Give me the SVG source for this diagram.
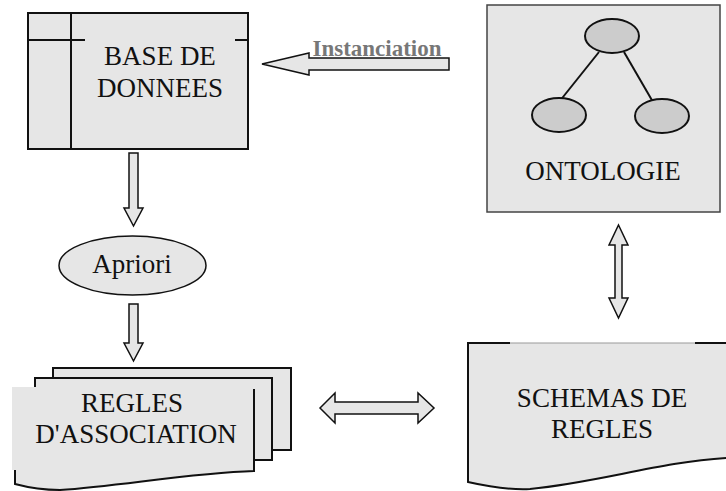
<svg xmlns="http://www.w3.org/2000/svg" width="726" height="491" viewBox="0 0 726 491">
<style>
.t{font-size:27px;fill:#111;text-anchor:middle}
.box{fill:#e6e6e6;stroke:#111;stroke-width:2}
.arr{fill:#e6e6e6;stroke:#111;stroke-width:1.5;stroke-linejoin:miter}
.ell{fill:#cccccc;stroke:#111;stroke-width:2}
</style>
<rect width="726" height="491" fill="#fff"/>
<g id="base-de-donnees">
<rect class="box" x="28" y="13" width="220" height="136"/>
<line x1="71" y1="13" x2="71" y2="149" stroke="#111" stroke-width="2"/>
<line x1="28" y1="40" x2="85" y2="40" stroke="#111" stroke-width="2"/>
<line x1="235" y1="40" x2="248" y2="40" stroke="#111" stroke-width="2"/>
<text class="t" font-family="Liberation Serif, Times New Roman, serif" x="160" y="65">BASE DE</text>
<text class="t" font-family="Liberation Serif, Times New Roman, serif" x="160" y="97">DONNEES</text>
</g>
<g id="ontologie">
<rect x="487" y="5" width="233" height="207" fill="#e6e6e6" stroke="#444" stroke-width="1.5"/>
<line x1="599" y1="52" x2="559" y2="102" stroke="#111" stroke-width="2"/>
<line x1="624" y1="52" x2="653" y2="102" stroke="#111" stroke-width="2"/>
<ellipse class="ell" cx="612" cy="36" rx="27" ry="17"/>
<ellipse class="ell" cx="559" cy="115" rx="27" ry="17"/>
<ellipse class="ell" cx="662" cy="116" rx="27" ry="17"/>
<text class="t" font-family="Liberation Serif, Times New Roman, serif" x="603" y="180">ONTOLOGIE</text>
</g>
<g id="apriori">
<ellipse cx="132.5" cy="265.5" rx="73.5" ry="29.5" fill="#e6e6e6" stroke="#111" stroke-width="1.5"/>
<text class="t" font-family="Liberation Serif, Times New Roman, serif" x="132" y="273">Apriori</text>
</g>
<g id="regles-association">
<path d="M53,368 L291,368 L291,450 L272,450 L272,460 L53,460 Z" fill="#e6e6e6" stroke="none"/>
<path d="M53,378 L53,368 L291,368 L291,450 L272,450" fill="none" stroke="#111" stroke-width="2"/>
<path d="M35,378 L272,378 L272,460 L254,460 L254,470 L35,470 Z" fill="#e6e6e6" stroke="none"/>
<path d="M35,387 L35,378 L272,378 L272,460 L254,460" fill="none" stroke="#111" stroke-width="2"/>
<path d="M12,387 L254,387 L254,471 C190,473 120,486 60,490 C45,490 30,488 15,484 L15,470 L12,470 Z" fill="#e6e6e6" stroke="none"/>
<path d="M254,389 L254,471 C190,473 120,486 60,490 C45,490 30,488 15,484 L15,470" fill="none" stroke="#111" stroke-width="2"/>
<text class="t" font-family="Liberation Serif, Times New Roman, serif" x="132" y="412">REGLES</text>
<text class="t" font-family="Liberation Serif, Times New Roman, serif" x="136" y="443">D'ASSOCIATION</text>
</g>
<g id="schemas-de-regles">
<path d="M468,343 L726,343 L726,458 C660,462 600,482 530,489 C510,490 490,487 468,482 Z" fill="#e6e6e6" stroke="none"/>
<path d="M510,343 L468,343 L468,482 C490,487 510,490 530,489 C600,482 660,462 726,458" fill="none" stroke="#111" stroke-width="2"/>
<line x1="510" y1="343" x2="695" y2="343" stroke="#999" stroke-width="1"/>
<line x1="695" y1="343" x2="726" y2="343" stroke="#111" stroke-width="2"/>
<text class="t" font-family="Liberation Serif, Times New Roman, serif" x="602" y="407">SCHEMAS DE</text>
<text class="t" font-family="Liberation Serif, Times New Roman, serif" x="602" y="438">REGLES</text>
</g>
<g id="connectors">
<path class="arr" d="M262,64 L309,53 L309,58 L449,58 L449,70 L309,70 L309,75 Z" fill="#dddddd" stroke-width="2"/>
<text x="377" y="56" font-family="Liberation Serif, Times New Roman, serif" font-size="23" font-weight="bold" fill="#777" text-anchor="middle">Instanciation</text>
<path class="arr" d="M129,153 L138,153 L138,208 L143,208 L133.5,226 L124,208 L129,208 Z"/>
<path class="arr" d="M129,304 L138,304 L138,343 L143,343 L133.5,361 L124,343 L129,343 Z"/>
<path class="arr" d="M618.5,225 L628,245 L622,245 L622,298 L628,298 L618.5,318 L609,298 L615,298 L615,245 L609,245 Z"/>
<path class="arr" d="M320,408 L335,393 L335,402 L418,402 L418,393 L434,408 L418,423 L418,414 L335,414 L335,423 Z"/>
</g>
</svg>
